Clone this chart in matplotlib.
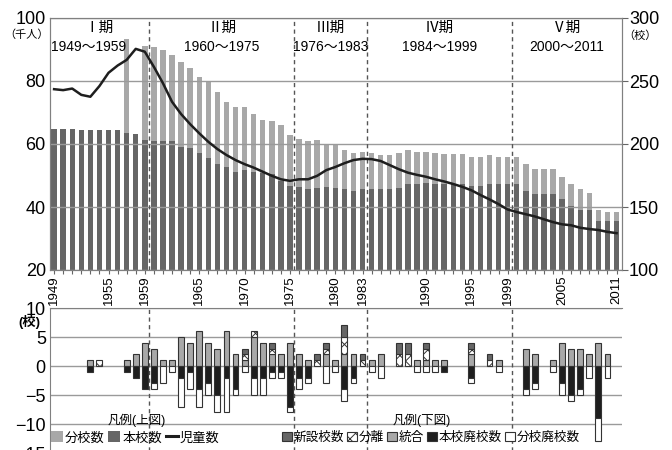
import matplotlib
matplotlib.use("Agg")
import matplotlib.pyplot as plt
from matplotlib.patches import Patch
from matplotlib.lines import Line2D
import numpy as np

plt.rcParams['font.family'] = ['Liberation Sans', 'Noto Sans CJK JP', 'DejaVu Sans']
plt.rcParams['hatch.linewidth'] = 0.7

years = np.arange(1949, 2012)

# 上図: 本校数・分校数 (校), 児童数 (千人)
honko = [212, 212, 212, 211, 211, 211, 211, 211, 209, 208,
         203, 202, 202, 202, 198, 197, 193, 189, 184, 182,
         178, 179, 178, 177, 176, 171, 167, 166, 164, 165,
         166, 165, 164, 163, 164, 164, 164, 164, 165, 168,
         168, 169, 168, 168, 168, 168, 167, 167, 168, 168,
         168, 168, 163, 160, 160, 160, 156, 151, 148, 148,
         139, 139, 139]
bunko = [0, 0, 0, 0, 0, 0, 0, 0, 74, 0,
         75, 75, 73, 69, 67, 63, 60, 60, 57, 51,
         51, 50, 46, 42, 42, 44, 40, 38, 38, 38,
         34, 34, 31, 30, 30, 29, 27, 27, 28, 27,
         26, 25, 25, 24, 24, 24, 23, 23, 23, 22,
         22, 22, 21, 20, 20, 20, 18, 17, 16, 13,
         9, 7, 7]
jido = [77.4, 77.1, 77.6, 75.6, 75.0, 78.4, 82.6, 84.9, 86.7, 90.2,
        89.3, 84.5, 79.3, 73.4, 69.5, 66.3, 63.4, 60.7, 58.4, 56.5,
        54.9, 53.6, 52.5, 51.2, 49.9, 48.8, 48.3, 48.8, 48.8, 49.9,
        51.7, 52.7, 53.9, 54.9, 55.3, 55.2, 54.6, 53.3, 52.0, 50.9,
        50.2, 49.6, 48.8, 48.1, 47.3, 46.4, 45.3, 43.8, 42.4, 40.9,
        39.2, 38.4, 37.7, 37.0, 36.1, 35.2, 34.5, 34.2, 33.4, 33.0,
        32.7, 32.1, 31.7]

# 下図: 年ごとの増減 (校)
shinsetsu = {1970: 1, 1973: 1, 1978: 1, 1979: 1, 1981: 2, 1983: 1, 1987: 2,
             1988: 2, 1990: 1, 1995: 1, 1997: 1}
bunri = {1954: 1, 1970: 1, 1971: 1, 1973: 1, 1978: 1, 1979: 1, 1981: 3,
         1983: 1, 1987: 2, 1988: 2, 1990: 2, 1995: 1, 1997: 1}
tougou = {1953: 1, 1957: 1, 1958: 2, 1959: 4, 1960: 3, 1961: 1, 1962: 1,
          1963: 5, 1964: 4, 1965: 6, 1966: 4, 1967: 3, 1968: 6, 1969: 2,
          1970: 1, 1971: 5, 1972: 4, 1973: 2, 1974: 2, 1975: 4, 1976: 2,
          1977: 1, 1979: 2, 1980: 1, 1981: 2, 1982: 2, 1984: 1, 1985: 2,
          1989: 1, 1990: 1, 1991: 1, 1992: 1, 1995: 2, 1998: 1, 2001: 3,
          2002: 2, 2004: 1, 2005: 4, 2006: 3, 2007: 3, 2008: 2, 2009: 4,
          2010: 2}
honko_hai = {1953: 1, 1957: 1, 1958: 2, 1959: 4, 1960: 3, 1963: 2, 1964: 1,
             1965: 4, 1966: 3, 1967: 5, 1968: 2, 1969: 4, 1971: 2, 1972: 2,
             1973: 1, 1974: 1, 1975: 7, 1976: 2, 1977: 2, 1981: 4, 1982: 2,
             1992: 1, 1995: 2, 2001: 4, 2002: 3, 2005: 3, 2006: 5, 2007: 4,
             2009: 9}
bunko_hai = {1960: 1, 1961: 3, 1962: 1, 1963: 5, 1964: 3, 1965: 3, 1966: 2,
             1967: 3, 1968: 6, 1969: 1, 1970: 1, 1971: 3, 1972: 3, 1973: 1,
             1974: 1, 1975: 1, 1976: 2, 1977: 1, 1979: 3, 1980: 1, 1981: 2,
             1982: 1, 1984: 1, 1985: 2, 1989: 1, 1990: 1, 1991: 1, 1995: 1,
             1998: 1, 2001: 1, 2002: 1, 2004: 1, 2005: 2, 2006: 1, 2007: 1,
             2008: 2, 2009: 4, 2010: 2}

tick_years = [1949, 1955, 1959, 1965, 1970, 1975, 1980, 1983, 1990, 1995, 1999, 2005, 2011]
period_names = ['Ⅰ期', 'Ⅱ期', 'Ⅲ期', 'Ⅳ期', 'Ⅴ期']
period_spans = [(1949, 1959), (1960, 1975), (1976, 1983), (1984, 1999), (2000, 2011)]


def by_year(d):
    return np.array([d.get(y, 0) for y in years])


LIGHT = '#a8a8a8'
DARK = '#666666'
BLACK = '#1e1e1e'
EDGE = '#333333'
GRID = '#9a9a9a'
XMIN, XMAX = 1948.55, 2011.6

fig = plt.figure(figsize=(6.72, 4.5), dpi=100)

# ---- 上図 ----
ax = fig.add_axes([0.0744, 0.4, 0.8512, 0.56])
ax2 = ax.twinx()

ax.bar(years, honko, width=0.6, color=DARK, zorder=1)
ax.bar(years, bunko, bottom=honko, width=0.6, color=LIGHT, zorder=1)
ax.set_xlim(XMIN, XMAX)
ax.set_ylim(100, 300)
ax.set_yticks([100, 150, 200, 250, 300])
ax.set_axisbelow(False)
ax.yaxis.grid(True, color=GRID, lw=1)
ax.set_xticks(years)
ax.set_xticklabels([str(y) if y in tick_years else '' for y in years])
ax.tick_params(axis='x', labelsize=9.5, labelrotation=90, length=3, color='#666666', pad=1)
for s in ax.spines.values():
    s.set_color('#808080')

ax2.plot(years, jido, color=BLACK, lw=1.8, zorder=3)
ax2.set_ylim(20, 100)
ax2.set_yticks([20, 40, 60, 80, 100])
for s in ax2.spines.values():
    s.set_color('#808080')

# 軸の左右を入れ替え (児童数=左, 校数=右)
ax.yaxis.tick_right()
ax.tick_params(axis='y', left=False, labelleft=False, right=True, labelright=True,
               labelsize=13, length=4, color='#666666', pad=1)
ax2.yaxis.tick_left()
ax2.tick_params(axis='y', right=False, labelright=False, left=True, labelleft=True,
                labelsize=13, length=0, pad=3)

for i, ((a, b), name) in enumerate(zip(period_spans, period_names)):
    c = (a + b) / 2
    ax2.text(c, 96.8, name, ha='center', va='center', fontsize=10.5)
    if i == 0:
        ax2.text(XMIN + 0.1, 90.8, f'{a}～{b}', ha='left', va='center', fontsize=10)
    else:
        ax2.text(c, 90.8, f'{a}～{b}', ha='center', va='center', fontsize=10)
    if i < len(period_spans) - 1:
        ax2.axvline(b + 0.5, color='#555555', ls=(0, (3, 2.5)), lw=1)

fig.text(27 / 672, 1 - 35 / 450, '（千人）', ha='center', va='center', fontsize=8)
fig.text(640 / 672, 1 - 36 / 450, '（校）', ha='center', va='center', fontsize=8)

# ---- 下図 ----
axb = fig.add_axes([0.0744, -0.0067, 0.8512, 0.3222])
t = by_year(tougou)
bn = by_year(bunri)
sn = by_year(shinsetsu)
hh = by_year(honko_hai)
bh = by_year(bunko_hai)
w = 0.65
kw = dict(width=w, edgecolor=EDGE, linewidth=0.8, zorder=3)
m = t > 0
axb.bar(years[m], t[m], color=LIGHT, **kw)
m = bn > 0
axb.bar(years[m], bn[m], bottom=t[m], color='white', hatch='xxx', **kw)
m = sn > 0
axb.bar(years[m], sn[m], bottom=(t + bn)[m], color=DARK, **kw)
m = hh > 0
axb.bar(years[m], -hh[m], color=BLACK, **kw)
m = bh > 0
axb.bar(years[m], -bh[m], bottom=-hh[m], color='white', **kw)

axb.set_xlim(XMIN, XMAX)
axb.set_ylim(-15, 10)
axb.set_yticks([10, 5, 0, -5, -10, -15])
axb.set_xticks([])
axb.yaxis.grid(True, color=GRID, lw=1)
axb.tick_params(axis='y', labelsize=13, length=0, pad=3)
axb.spines['right'].set_visible(False)
axb.spines['bottom'].set_visible(False)
axb.spines['left'].set_color('#808080')
axb.spines['top'].set_color('#808080')
for a, b in period_spans[:-1]:
    axb.axvline(b + 0.5, color='#555555', ls=(0, (3, 2.5)), lw=1, zorder=2)

fig.text(29 / 672, 1 - 322 / 450, '(校)', ha='center', va='center', fontsize=9.5, fontweight='bold')

axb.text(1958.1, -9.3, '凡例(上図)', ha='center', va='center', fontsize=9)
axb.text(1989.5, -9.3, '凡例(下図)', ha='center', va='center', fontsize=9)

h1 = [Patch(facecolor=LIGHT), Patch(facecolor=DARK), Line2D([], [], color=BLACK, lw=2.2)]
l1 = ['分校数', '本校数', '児童数']
leg1 = axb.legend(h1, l1, ncol=3, loc='center left', bbox_to_anchor=(1948.65, -12.4),
                  bbox_transform=axb.transData, frameon=False, fontsize=9.5,
                  handlelength=0.9, handleheight=0.9, handletextpad=0.15,
                  columnspacing=0.3, borderpad=0, borderaxespad=0)
axb.add_artist(leg1)
h2 = [Patch(facecolor=DARK, edgecolor=EDGE, lw=0.8),
      Patch(facecolor='white', edgecolor=EDGE, lw=0.8, hatch='xxx'),
      Patch(facecolor=LIGHT, edgecolor=EDGE, lw=0.8),
      Patch(facecolor=BLACK, edgecolor=EDGE, lw=0.8),
      Patch(facecolor='white', edgecolor=EDGE, lw=0.8)]
l2 = ['新設校数', '分離', '統合', '本校廃校数', '分校廃校数']
axb.legend(h2, l2, ncol=5, loc='center left', bbox_to_anchor=(1974.1, -12.4),
           bbox_transform=axb.transData, frameon=False, fontsize=9.1,
           handlelength=0.8, handleheight=0.8, handletextpad=0.12,
           columnspacing=0.25, borderpad=0, borderaxespad=0)

fig.savefig('out.png', dpi=100)
